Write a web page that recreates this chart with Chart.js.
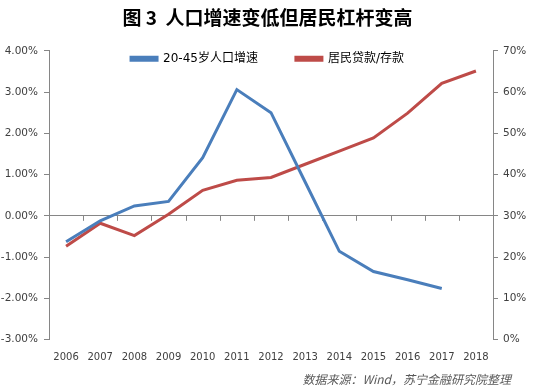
<!DOCTYPE html>
<html>
<head>
<meta charset="utf-8">
<script src="https://cdn.jsdelivr.net/npm/chart.js@4/dist/chart.umd.min.js"></script>
<style>
  html, body { margin: 0; padding: 0; background: #fff; }
  #wrap { width: 535px; height: 389px; }
</style>
</head>
<body>
<div id="wrap"><canvas id="c" width="535" height="389"></canvas></div>
<script>
// data
var years = ['2006', '2007', '2008', '2009', '2010', '2011', '2012', '2013', '2014', '2015', '2016', '2017', '2018'];
var popGrowth = [-0.63, -0.12, 0.24, 0.35, 1.41, 3.06, 2.50, 0.82, -0.86, -1.35, -1.55, -1.76, null];   // %, left axis
var loanDeposit = [22.6, 28.2, 25.2, 30.4, 36.2, 38.6, 39.3, 42.5, 45.7, 48.9, 54.9, 62.1, 65.1]; // %, right axis
var seriesNames = ['20-45岁人口增速', '居民贷款/存款'];

var AXIS_GREY = '#868686';
var TEXT = '#404040';
var FONT = "'DejaVu Sans', 'Noto Sans CJK SC', sans-serif";

/**
 * legend sits inside the top of the plot, like excel
 */
var legendInside = {
    id: 'legendInside',
    afterLayout: function(chart) {
        var lg = chart.legend;
        var p = lg.options.labels.padding;
        lg.top = chart.chartArea.top + 8 - p - 6;
        lg.bottom = lg.top + 2 * p + 12;
        lg.height = lg.bottom - lg.top;
    }
};

/**
 * small tick marks under the zero line, between categories
 */
var zeroTicks = {
    id: 'zeroTicks',
    beforeDatasetsDraw: function(chart) {
        var x = chart.scales.x;
        var y0 = chart.scales.y.getPixelForValue(0);
        var ctx = chart.ctx;
        ctx.save();
        ctx.strokeStyle = AXIS_GREY;
        ctx.lineWidth = 1;
        ctx.beginPath();
        for(var i = 1; i < years.length; i++) {
            var px = Math.round((x.getPixelForValue(i - 1) + x.getPixelForValue(i)) / 2) + 0.5;
            ctx.moveTo(px, y0);
            ctx.lineTo(px, y0 + 5);
        }
        ctx.stroke();
        ctx.restore();
    }
};

new Chart(document.getElementById('c'), {
    type: 'line',
    data: {
        labels: years,
        datasets: [{
            label: seriesNames[0],
            data: popGrowth,
            yAxisID: 'y',
            borderColor: '#4A7EBB',
            backgroundColor: '#4A7EBB',
            borderWidth: 3,
            pointRadius: 0,
            tension: 0,
        }, {
            label: seriesNames[1],
            data: loanDeposit,
            yAxisID: 'y1',
            borderColor: '#BE4B48',
            backgroundColor: '#BE4B48',
            borderWidth: 3,
            pointRadius: 0,
            tension: 0,
        }],
    },
    options: {
        responsive: false,
        animation: false,
        layout: { padding: 0 },
        plugins: {
            title: {
                display: true,
                text: '图 3  人口增速变低但居民杠杆变高',
                color: '#000',
                font: { family: "'Noto Sans CJK SC', sans-serif", size: 19, weight: 'bold' },
                padding: { top: 6, bottom: 21 },
            },
            legend: {
                display: true,
                position: 'top',
                maxHeight: 1,
                labels: {
                    boxWidth: 26,
                    boxHeight: 3,
                    padding: 38,
                    color: '#000',
                    font: { family: FONT, size: 12 },
                },
            },
            subtitle: {
                display: true,
                position: 'bottom',
                align: 'end',
                text: '数据来源：Wind，苏宁金融研究院整理\u3000\u3000',
                color: '#595959',
                font: { family: "'Noto Sans CJK SC', sans-serif", size: 12, style: 'italic' },
                padding: { top: 7, bottom: 2 },
            },
            tooltip: { enabled: false },
        },
        scales: {
            x: {
                offset: true,
                afterFit: function(s) { s.height = 26; },
                border: { display: false },
                grid: { display: false, drawTicks: false },
                ticks: { color: TEXT, font: { family: FONT, size: 10 }, padding: 12, maxRotation: 0, autoSkip: false },
            },
            y: {
                position: 'left',
                min: -3,
                max: 4,
                afterFit: function(s) { s.width = 49; },
                border: { display: true, color: AXIS_GREY },
                grid: {
                    drawOnChartArea: true,
                    color: function(c) { return c.tick && c.tick.value === 0 ? AXIS_GREY : 'rgba(0,0,0,0)'; },
                    tickColor: AXIS_GREY,
                    tickLength: 5,
                },
                ticks: {
                    stepSize: 1,
                    color: TEXT,
                    padding: 6,
                    font: { family: FONT, size: 10.5 },
                    callback: function(v) { return v.toFixed(2) + '%'; },
                },
            },
            y1: {
                position: 'right',
                min: 0,
                max: 70,
                afterFit: function(s) { s.width = 42; },
                border: { display: true, color: AXIS_GREY },
                grid: { drawOnChartArea: false, tickColor: AXIS_GREY, tickLength: 5 },
                ticks: {
                    stepSize: 10,
                    color: TEXT,
                    padding: 5,
                    font: { family: FONT, size: 10.5 },
                    callback: function(v) { return v + '%'; },
                },
            },
        },
    },
    plugins: [legendInside, zeroTicks],
});
</script>
</body>
</html>
